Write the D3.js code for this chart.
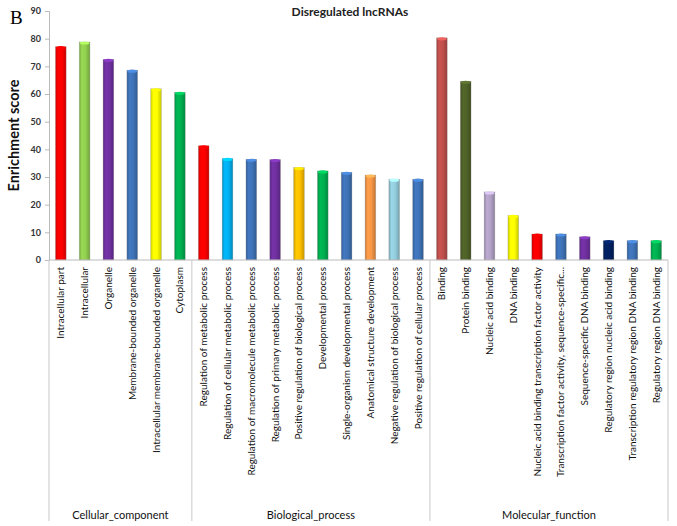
<!DOCTYPE html>
<html>
<head>
<meta charset="utf-8">
<script src="https://cdn.jsdelivr.net/npm/d3@7"></script>
<style>
  body { margin: 0; background: #fff; }
  svg { display: block; }
</style>
</head>
<body>
<svg id="chart" width="677" height="526"></svg>
<script>
const groups = ["Cellular_component", "Biological_process", "Molecular_function"];

const categories = [
  "Intracellular part", "Intracellular", "Organelle", "Membrane-bounded organelle",
  "Intracellular membrane-bounded organelle", "Cytoplasm",
  "Regulation of metabolic process", "Regulation of cellular metabolic process",
  "Regulation of macromolecule metabolic process", "Regulation of primary metabolic process",
  "Positive regulation of biological process", "Developmental process",
  "Single-organism developmental process", "Anatomical structure development",
  "Negative regulation of biological process", "Positive regulation of cellular process",
  "Binding", "Protein binding", "Nucleic acid binding", "DNA binding",
  "Nucleic acid binding  transcription factor activity",
  "Transcription factor activity, sequence-specific...",
  "Sequence-specific DNA binding", "Regulatory region nucleic acid binding",
  "Transcription regulatory region DNA binding", "Regulatory region DNA binding"
];

const categoryGroup = [
  0,0,0,0,0,0,
  1,1,1,1,1,1,1,1,1,1,
  2,2,2,2,2,2,2,2,2,2
];

const values = [
  77.1, 78.8, 72.5, 68.6, 61.9, 60.6,
  41.3, 36.7, 36.4, 36.3, 33.4, 32.2, 31.7, 30.7, 29.2, 29.2,
  80.3, 64.6, 24.6, 16.1, 9.4, 9.4, 8.4, 7.0, 7.0, 7.0
];

const colors = [
  "#FF0000", "#92D050", "#7030A0", "#3F73B8", "#FFFF00", "#00B050",
  "#FF0000", "#00B0F0", "#3F73B8", "#7030A0", "#FFC000", "#00B050", "#3F73B8", "#F79646", "#93CDDD", "#3F73B8",
  "#C0504D", "#4F6228", "#B3A2C7", "#FFFF00", "#FF0000", "#3F73B8", "#7030A0", "#002060", "#3F73B8", "#00B050"
];

const yTicks = [0, 10, 20, 30, 40, 50, 60, 70, 80, 90];

const svg = d3.select("#chart");
const mLeft = 49, mRight = 668, mTop = 11, mBottom = 260;
const font = "Lato, 'Open Sans', sans-serif";

const x = d3.scaleBand().domain(d3.range(categories.length)).range([mLeft, mRight]).paddingInner(0.55).paddingOuter(0.27);
const xb = d3.scaleBand().domain(d3.range(categories.length)).range([mLeft, mRight]);
const y = d3.scaleLinear().domain([0, 90]).range([mBottom, mTop]);

// gradients
const defs = svg.append("defs");
colors.forEach((c, i) => {
  const g = defs.append("linearGradient").attr("id", "g" + i).attr("x1", "0").attr("x2", "1").attr("y1", "0").attr("y2", "0");
  const base = d3.color(c);
  g.append("stop").attr("offset", "0%").attr("stop-color", base.darker(0.6));
  g.append("stop").attr("offset", "25%").attr("stop-color", base.brighter(0.15));
  g.append("stop").attr("offset", "60%").attr("stop-color", base);
  g.append("stop").attr("offset", "100%").attr("stop-color", base.darker(0.7));
});

// Title & panel letter
svg.append("text").attr("x", 10).attr("y", 24).attr("font-family", "'Liberation Serif', 'DejaVu Serif', serif")
  .attr("font-size", 19).attr("fill", "#000").text("B");
svg.append("text").attr("x", 350).attr("y", 16).attr("text-anchor", "middle")
  .attr("font-family", font).attr("font-weight", "bold").attr("font-size", 12).attr("fill", "#222")
  .text("Disregulated lncRNAs");

// y axis
const yAxis = d3.axisLeft(y).tickValues(yTicks).tickSize(4).tickPadding(4);
const ya = svg.append("g").attr("transform", `translate(${mLeft},0)`).call(yAxis);
ya.select(".domain").attr("stroke", "#bbb");
ya.selectAll(".tick line").attr("stroke", "#bbb");
ya.selectAll(".tick text").attr("font-family", font).attr("font-size", 9).attr("font-weight", "bold").attr("fill", "#333");

svg.append("text")
  .attr("transform", `translate(19,${(mTop + mBottom) / 2}) rotate(-90)`)
  .attr("text-anchor", "middle").attr("font-family", font).attr("font-size", 14.5).attr("font-weight", "bold").attr("fill", "#111")
  .text("Enrichment score");

// bars
const bars = svg.append("g");
bars.selectAll("rect").data(values).join("rect")
  .attr("x", (d, i) => x(i))
  .attr("width", x.bandwidth())
  .attr("y", d => y(d))
  .attr("height", d => y(0) - y(d))
  .attr("fill", (d, i) => `url(#g${i})`)
  .attr("stroke", "#999").attr("stroke-opacity", 0.5).attr("stroke-width", 0.6);
// top caps
bars.selectAll("ellipse").data(values).join("ellipse")
  .attr("cx", (d, i) => x(i) + x.bandwidth() / 2)
  .attr("cy", d => y(d) + 1)
  .attr("rx", x.bandwidth() / 2 - 0.5)
  .attr("ry", 1.6)
  .attr("fill", (d, i) => d3.color(colors[i]).brighter(0.6));

// x axis line
svg.append("line").attr("x1", mLeft).attr("x2", mRight).attr("y1", mBottom).attr("y2", mBottom).attr("stroke", "#bbb");

// group separators
const groupStart = groups.map((g, gi) => categoryGroup.indexOf(gi));
const groupEnd = groups.map((g, gi) => categoryGroup.lastIndexOf(gi));
const seps = [xb(0)].concat(groupEnd.map(e => xb(e) + xb.bandwidth()));
svg.selectAll(".sep").data(seps).join("line").attr("class", "sep")
  .attr("x1", d => d).attr("x2", d => d).attr("y1", mBottom).attr("y2", 521)
  .attr("stroke", "#c8c8c8").attr("stroke-width", 1);

// category labels
svg.append("g").selectAll("text").data(categories).join("text")
  .attr("transform", (d, i) => `translate(${xb(i) + xb.bandwidth() / 2 + 3.5},267) rotate(-90)`)
  .attr("text-anchor", "end").attr("font-family", font).attr("font-size", 10).attr("fill", "#111")
  .text(d => d);

// group labels
svg.append("g").selectAll("text").data(groups).join("text")
  .attr("x", (d, i) => (xb(groupStart[i]) + xb(groupEnd[i]) + xb.bandwidth()) / 2)
  .attr("y", 519).attr("text-anchor", "middle")
  .attr("font-family", font).attr("font-size", 11).attr("fill", "#111")
  .text(d => d);
</script>
</body>
</html>
